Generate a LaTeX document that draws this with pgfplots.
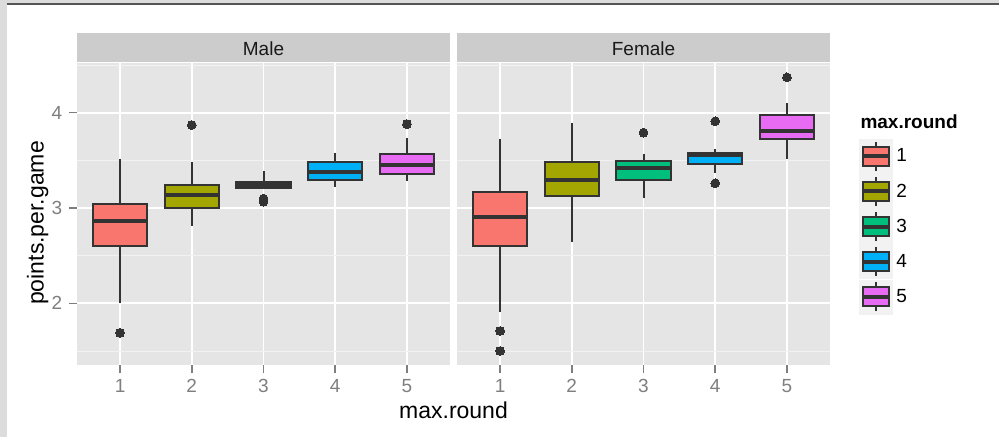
\documentclass[border=0pt]{standalone}
\usepackage{fontspec}
\setmainfont{Liberation Sans}
\usepackage{pgfplots}
\pgfplotsset{compat=1.18}
\usepgfplotslibrary{statistics}
\definecolor{c1}{HTML}{F8766D}
\definecolor{c2}{HTML}{A3A500}
\definecolor{c3}{HTML}{00BF7D}
\definecolor{c4}{HTML}{00B0F6}
\definecolor{c5}{HTML}{E76BF3}
\definecolor{dk}{HTML}{333333}
\definecolor{panel}{HTML}{E5E5E5}
\definecolor{stripc}{HTML}{CCCCCC}
\definecolor{minorg}{HTML}{F2F2F2}
\definecolor{tickc}{HTML}{7F7F7F}
\definecolor{framel}{HTML}{DCDCDC}
\definecolor{framed}{HTML}{555555}
\newcommand{\sz}{\fontsize{19}{22}\selectfont}
\newcommand{\szt}{\fontsize{23}{27}\selectfont}
\pgfplotsset{
  panel/.style={
    width=373pt, height=302pt, scale only axis, anchor=south west,
    xmin=0.4, xmax=5.6, ymin=1.353, ymax=4.521,
    xtick={1,2,3,4,5}, ytick={2,3,4}, minor ytick={1.5,2.5,3.5,4.5},
    xmajorgrids, ymajorgrids, yminorgrids,
    major grid style={white, line width=1.7pt},
    minor grid style={minorg, line width=0.9pt},
    axis line style={draw=none},
    axis background/.style={fill=panel},
    tick align=outside, major tick length=8pt, minor tick length=0pt,
    xtick pos=left, ytick pos=left,
    tick style={color=tickc, line width=1.6pt},
    /pgf/number format/assume math mode=true,
    tick label style={font=\sz, text=tickc, inner sep=0pt},
    xticklabel style={anchor=north, yshift=-6pt},
    yticklabel style={anchor=east, xshift=-6.5pt},
    boxplot/draw direction=y,
  },
  bx/.style={fill=#1, draw=dk, line width=2pt, mark=*, mark size=4.4pt,
    mark options={fill=dk, draw=dk, line width=0pt},
    boxplot/every median/.style={line width=4.2pt}, forget plot},
  leg/.style={legend image code/.code={
    \fill[minorg] (0pt,-17pt) rectangle (33pt,17pt);
    \draw[dk, line width=2pt] (16.5pt,-14.5pt) -- (16.5pt,14.5pt);
    \filldraw[fill=#1, draw=dk, line width=2pt] (3.5pt,-9.5pt) rectangle (29.5pt,9.5pt);
    \draw[dk, line width=4pt] (3.5pt,0pt) -- (29.5pt,0pt);
  }},
}
\begin{document}
\begin{tikzpicture}
\useasboundingbox (0pt,0pt) rectangle (999pt,437pt);
\fill[white] (0pt,0pt) rectangle (999pt,437pt);
\fill[framel] (0pt,0pt) rectangle (7pt,437pt);
\fill[framel] (0pt,434pt) rectangle (999pt,437pt);
\fill[framed] (7pt,432pt) rectangle (999pt,434pt);

% Male panel
\begin{axis}[panel, at={(77pt,72pt)}]
\addplot[bx=c1, boxplot prepared={draw position=1, lower whisker=2.0, lower quartile=2.605, median=2.86, upper quartile=3.04, upper whisker=3.517, box extend=0.76, whisker extend=0}]
  table[row sep=\\, y index=0] {v\\ 1.69\\};
\addplot[bx=c2, boxplot prepared={draw position=2, lower whisker=2.81, lower quartile=3.0, median=3.14, upper quartile=3.245, upper whisker=3.48, box extend=0.76, whisker extend=0}]
  table[row sep=\\, y index=0] {v\\ 3.87\\};
\addplot[bx=c3, boxplot prepared={draw position=3, lower whisker=3.205, lower quartile=3.21, median=3.242, upper quartile=3.275, upper whisker=3.384, box extend=0.76, whisker extend=0}]
  table[row sep=\\, y index=0] {v\\ 3.098\\ 3.066\\};
\addplot[bx=c4, boxplot prepared={draw position=4, lower whisker=3.22, lower quartile=3.294, median=3.38, upper quartile=3.48, upper whisker=3.58, box extend=0.76, whisker extend=0}]
  coordinates {};
\addplot[bx=c5, boxplot prepared={draw position=5, lower whisker=3.287, lower quartile=3.36, median=3.447, upper quartile=3.567, upper whisker=3.73, box extend=0.76, whisker extend=0}]
  table[row sep=\\, y index=0] {v\\ 3.88\\};
\end{axis}

% Female panel
\begin{axis}[panel, at={(457pt,72pt)}, yticklabels={}, ytick style={draw=none},
  legend style={at={(1.0777,0.7483)}, anchor=north west, draw=none, fill=none,
    inner sep=0pt, outer sep=0pt, row sep=0.75pt, column sep=4pt,
    nodes={inner sep=0pt}, font=\sz, text=black},
  legend cell align=left]
\addplot[bx=c1, boxplot prepared={draw position=1, lower whisker=1.91, lower quartile=2.605, median=2.905, upper quartile=3.164, upper whisker=3.72, box extend=0.76, whisker extend=0}]
  table[row sep=\\, y index=0] {v\\ 1.71\\ 1.50\\};
\addplot[bx=c2, boxplot prepared={draw position=2, lower whisker=2.64, lower quartile=3.13, median=3.294, upper quartile=3.48, upper whisker=3.89, box extend=0.76, whisker extend=0}]
  coordinates {};
\addplot[bx=c3, boxplot prepared={draw position=3, lower whisker=3.10, lower quartile=3.29, median=3.42, upper quartile=3.49, upper whisker=3.567, box extend=0.76, whisker extend=0}]
  table[row sep=\\, y index=0] {v\\ 3.79\\};
\addplot[bx=c4, boxplot prepared={draw position=4, lower whisker=3.37, lower quartile=3.465, median=3.56, upper quartile=3.58, upper whisker=3.62, box extend=0.76, whisker extend=0}]
  table[row sep=\\, y index=0] {v\\ 3.91\\ 3.26\\};
\addplot[bx=c5, boxplot prepared={draw position=5, lower whisker=3.51, lower quartile=3.72, median=3.81, upper quartile=3.98, upper whisker=4.10, box extend=0.76, whisker extend=0}]
  table[row sep=\\, y index=0] {v\\ 4.37\\};
\addlegendimage{leg=c1}\addlegendentry{1}
\addlegendimage{leg=c2}\addlegendentry{2}
\addlegendimage{leg=c3}\addlegendentry{3}
\addlegendimage{leg=c4}\addlegendentry{4}
\addlegendimage{leg=c5}\addlegendentry{5}
\end{axis}

% strips
\fill[stripc] (77pt,375pt) rectangle (450pt,404pt);
\fill[stripc] (457pt,375pt) rectangle (830pt,404pt);
\node[anchor=base, font=\sz, text=black!90] at (263.5pt,381pt) {Male};
\node[anchor=base, font=\sz, text=black!90] at (643.5pt,381pt) {Female};

% axis titles
\node[anchor=base, font=\szt] at (453.5pt,19pt) {max.round};
\node[anchor=base, rotate=90, font=\szt] at (43.5pt,214pt) {points.per.game};
\node[anchor=base west, font=\sz\bfseries] at (857pt,308pt) {max.round};
\end{tikzpicture}
\end{document}
